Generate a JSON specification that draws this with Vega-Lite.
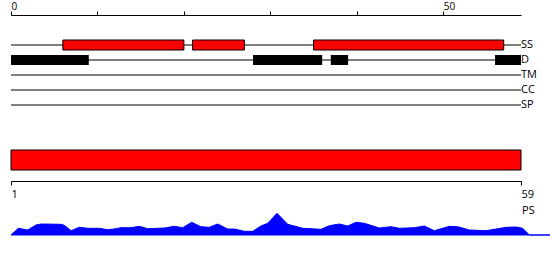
{
  "$schema": "https://vega.github.io/schema/vega-lite/v6.json",
  "padding": {"left": 9, "top": 1, "right": 0, "bottom": 0},
  "spacing": 30,
  "bounds": "flush",
  "config": {"view": {"stroke": null}, "font": "Open Sans"},
  "datasets": {
    "tracks": [
      {"track": "SS", "start": 0, "end": 59},
      {"track": "D", "start": 0, "end": 59},
      {"track": "TM", "start": 0, "end": 59},
      {"track": "CC", "start": 0, "end": 59},
      {"track": "SP", "start": 0, "end": 59}
    ],
    "features": [
      {"track": "SS", "start": 6, "end": 20},
      {"track": "SS", "start": 21, "end": 27},
      {"track": "SS", "start": 35, "end": 57},
      {"track": "D", "start": 0, "end": 9},
      {"track": "D", "start": 28, "end": 36},
      {"track": "D", "start": 37, "end": 39},
      {"track": "D", "start": 56, "end": 59}
    ],
    "protein": [{"start": 1, "end": 59}],
    "ps": [
      {"pos": 1.0, "v": 0}, {"pos": 1.83, "v": 6.7}, {"pos": 2.9, "v": 5}, {"pos": 3.84, "v": 10},
      {"pos": 4.41, "v": 11}, {"pos": 6.69, "v": 10.7}, {"pos": 7.06, "v": 9.7}, {"pos": 7.82, "v": 4.3},
      {"pos": 8.77, "v": 7.7}, {"pos": 9.72, "v": 6.7}, {"pos": 11.04, "v": 6.7}, {"pos": 12.0, "v": 5.3},
      {"pos": 12.75, "v": 6}, {"pos": 13.5, "v": 7.3}, {"pos": 14.65, "v": 7.3}, {"pos": 15.6, "v": 8.7},
      {"pos": 16.55, "v": 6.3}, {"pos": 18.44, "v": 7}, {"pos": 19.57, "v": 8.7}, {"pos": 20.53, "v": 7.3},
      {"pos": 21.55, "v": 12.7}, {"pos": 22.6, "v": 8.3}, {"pos": 23.55, "v": 7.7}, {"pos": 24.5, "v": 11},
      {"pos": 25.64, "v": 6}, {"pos": 26.4, "v": 6}, {"pos": 27.53, "v": 3.7}, {"pos": 28.49, "v": 3.7},
      {"pos": 29.43, "v": 9}, {"pos": 30.19, "v": 11.7}, {"pos": 31.25, "v": 21.7}, {"pos": 32.47, "v": 10.7},
      {"pos": 34.17, "v": 6.7}, {"pos": 36.26, "v": 5.7}, {"pos": 37.2, "v": 9.3}, {"pos": 38.34, "v": 11},
      {"pos": 39.29, "v": 9}, {"pos": 40.24, "v": 12.7}, {"pos": 41.18, "v": 11.7}, {"pos": 42.89, "v": 7},
      {"pos": 44.22, "v": 8.3}, {"pos": 45.16, "v": 6.7}, {"pos": 46.87, "v": 7.3}, {"pos": 48.0, "v": 9},
      {"pos": 49.14, "v": 4.3}, {"pos": 50.85, "v": 8.7}, {"pos": 51.8, "v": 8.3}, {"pos": 53.12, "v": 5},
      {"pos": 55.02, "v": 4.3}, {"pos": 57.3, "v": 7.7}, {"pos": 58.43, "v": 8}, {"pos": 59.19, "v": 6.7},
      {"pos": 59.95, "v": 0}, {"pos": 62.41, "v": 0}
    ]
  },
  "vconcat": [
    {
      "width": 510,
      "height": 90,
      "layer": [
        {
          "data": {"name": "tracks"},
          "mark": {"type": "rule", "color": "black", "strokeWidth": 1},
          "encoding": {
            "x": {
              "field": "start", "type": "quantitative",
              "scale": {"domain": [0, 59], "nice": false, "zero": false},
              "axis": {
                "orient": "top", "values": [0, 10, 20, 30, 40, 50], "offset": 15,
                "labelExpr": "datum.value % 50 == 0 ? datum.label : ''",
                "title": null, "grid": false, "tickSize": 4, "labelPadding": 0,
                "labelFlush": false, "labelAlign": "left", "labelFontSize": 10,
                "labelColor": "black", "domainColor": "black", "tickColor": "black"
              }
            },
            "x2": {"field": "end"},
            "y": {
              "field": "track", "type": "nominal",
              "scale": {"type": "point", "padding": 1, "domain": ["SS", "D", "TM", "CC", "SP"]},
              "axis": null
            }
          }
        },
        {
          "data": {"name": "features"},
          "transform": [{"filter": "datum.track == 'SS'"}],
          "mark": {"type": "bar", "color": "#ff0000", "stroke": "black", "strokeWidth": 1, "size": 10},
          "encoding": {
            "x": {"field": "start", "type": "quantitative"},
            "x2": {"field": "end"},
            "y": {"field": "track", "type": "nominal"}
          }
        },
        {
          "data": {"name": "features"},
          "transform": [{"filter": "datum.track == 'D'"}],
          "mark": {"type": "bar", "color": "black", "size": 10},
          "encoding": {
            "x": {"field": "start", "type": "quantitative"},
            "x2": {"field": "end"},
            "y": {"field": "track", "type": "nominal"}
          }
        },
        {
          "data": {"name": "tracks"},
          "mark": {"type": "text", "align": "left", "baseline": "middle", "dx": 0, "fontSize": 11, "color": "black"},
          "encoding": {
            "x": {"field": "end", "type": "quantitative"},
            "y": {"field": "track", "type": "nominal"},
            "text": {"field": "track"}
          }
        }
      ]
    },
    {
      "width": 510,
      "height": 20,
      "data": {"name": "protein"},
      "mark": {"type": "rect", "color": "#ff0000", "stroke": "black", "strokeWidth": 1},
      "encoding": {
        "x": {
          "field": "start", "type": "quantitative",
          "scale": {"domain": [1, 59], "nice": false, "zero": false},
          "axis": {
            "orient": "bottom", "values": [1, 59], "title": null, "grid": false,
            "offset": 11, "tickSize": 4, "labelPadding": 3, "labelFlush": false,
            "labelAlign": "left",
            "labelFontSize": 11, "labelColor": "black", "domainColor": "black", "tickColor": "black",
            "encode": {"labels": {"update": {"align": {"signal": "datum.value == 1 ? 'left' : 'center'"}, "fill": {"value": "black"}}}}
          }
        },
        "x2": {"field": "end"}
      }
    },
    {
      "width": 540,
      "height": 35,
      "layer": [
        {
          "data": {"name": "ps"},
          "mark": {"type": "area", "color": "#0000ff", "stroke": "#0000ff", "strokeWidth": 1},
          "encoding": {
            "x": {"field": "pos", "type": "quantitative", "scale": {"domain": [1, 62.41], "nice": false, "zero": false}, "axis": null},
            "y": {"field": "v", "type": "quantitative", "scale": {"domain": [0, 35], "nice": false}, "axis": null}
          }
        },
        {
          "data": {"values": [{"label": "PS"}]},
          "mark": {"type": "text", "align": "left", "baseline": "middle", "dx": 1, "fontSize": 11, "color": "black"},
          "encoding": {
            "x": {"datum": 59, "type": "quantitative"},
            "y": {"datum": 24, "type": "quantitative"},
            "text": {"field": "label"}
          }
        }
      ]
    }
  ]
}
